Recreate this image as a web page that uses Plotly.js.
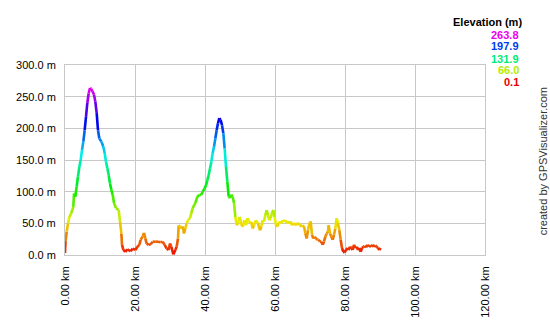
<!DOCTYPE html>
<html>
<head>
<meta charset="utf-8">
<script src="https://cdn.plot.ly/plotly-3.0.1.min.js"></script>
<style>html,body{margin:0;padding:0;background:#fff;}#chart{width:550px;height:320px;}</style>
</head>
<body>
<div id="chart"></div>
<script>
// Distance along track (km)
const distanceKm = [
  0, 0.15, 0.5, 0.86, 1.24, 1.81, 2.38, 2.57, 2.95, 3.33, 3.71, 4.1, 4.48, 4.86, 5.24, 5.62, 6.0, 6.38, 6.76, 7.14, 7.52, 7.9, 8.29, 8.67, 9.05, 9.43, 9.81, 10.4, 10.95, 11.33, 11.71, 12.1, 12.48, 12.86, 13.24, 13.62, 14.0, 14.57, 15.33, 15.71, 16.1, 16.29, 16.67, 17.24, 17.81,
  18.0, 18.76, 19.33, 20.1, 20.67, 21.24, 21.62, 22.19, 22.57, 22.95, 23.33, 23.9, 24.48, 25.05, 25.81, 26.57, 27.33, 27.9, 28.48, 29.05, 29.62, 30.0, 30.38, 30.95, 31.52, 31.9, 32.29, 32.48, 32.86, 33.24, 33.62, 34.0, 34.38, 34.76, 35.14, 35.71, 36.1, 36.48,
  37.24, 37.81, 38.38, 38.95, 39.33, 39.9, 40.29, 40.67, 41.05, 41.43, 41.81, 42.19, 42.57, 42.95, 43.33, 43.71, 44.1, 44.48, 44.86, 45.24, 45.62, 46.0, 46.38, 46.76, 47.14, 47.52, 47.9, 48.29, 48.67, 49.05, 49.43, 49.81, 50.19, 50.57, 50.95, 51.33, 51.71, 52.1, 52.48, 52.86, 53.24, 53.62, 54.0, 54.57, 55.14,
  55.71, 56.1, 56.48, 56.86, 57.24, 57.62, 58.0, 58.38, 58.76, 59.14, 59.52, 59.9, 60.29, 60.67, 61.05, 61.43, 61.81, 62.19, 62.57, 62.95, 63.33, 63.71, 64.1, 64.48, 64.86, 65.24, 65.62, 66.0, 66.38, 66.76, 67.14, 67.52, 67.9, 68.29, 68.67, 69.05, 69.43, 69.81, 70.19, 70.57, 70.95, 71.33, 71.71, 72.1, 72.48, 72.86, 73.24, 73.62, 74.0, 74.38, 74.76,
  75.14, 75.33, 75.71, 76.1, 76.48, 76.86, 77.24, 77.62, 78.0, 78.38, 78.76, 79.14, 79.52, 79.9, 80.29, 80.67, 81.05, 81.43, 81.81, 82.19, 82.57, 82.95, 83.33, 83.71, 84.1, 84.48, 84.86, 85.24, 85.62, 86.0, 86.38, 86.76, 87.14, 87.52, 87.9, 88.29, 88.67, 89.05, 89.43, 89.81, 90.19
];
// Elevation (m)
const elevationM = [
  3, 22, 37, 50, 60, 66, 76, 97, 92, 108, 124, 139, 150, 166, 179, 197, 218, 240, 255, 263.8, 262, 258, 253, 242, 224, 197, 184, 179, 171, 161, 147, 137, 126, 113, 103, 95, 82, 74, 71, 53, 34, 16, 8, 5, 9,
  8, 6, 10, 8, 13, 16, 24, 29, 35, 26, 18, 16, 17, 21, 21, 21, 20, 21, 16, 10, 8, 18, 13, 1, 8, 13, 26, 47, 45, 42, 45, 34, 42, 50, 55, 58, 66, 74,
  82, 92, 95, 95, 100, 105, 110, 118, 126, 137, 147, 161, 171, 184, 197, 208, 216, 213, 205, 192, 168, 139, 116, 92, 90, 95, 92, 82, 60, 47, 50, 60, 55, 45, 47, 55, 47, 58, 55, 50, 52, 42, 47, 55, 50,
  39, 45, 55, 53, 63, 71, 63, 55, 58, 66, 71, 60, 47, 45, 50, 53, 50, 55, 53, 55, 50, 53, 50, 53, 47, 50, 49, 47, 50, 50, 47, 45, 47, 45, 34, 26, 39, 50, 53, 32, 26, 29, 26, 24, 24, 21, 21, 16, 21, 29, 34,
  37, 47, 34, 29, 24, 32, 42, 58, 50, 39, 24, 11, 5, 4, 8, 11, 8, 13, 11, 8, 16, 11, 13, 8, 11, 5, 11, 13, 14, 12, 16, 13, 15, 13, 16, 13, 15, 13, 11, 8, 11
];
// Colour legend values (m)
const legendValues = [263.8, 197.9, 131.9, 66.0, 0.1];
const xTickVals = [0, 20, 40, 60, 80, 100, 120];
const yTickVals = [0, 50, 100, 150, 200, 250, 300];

const EMIN = 0.1, EMAX = 263.8;
function hsv(h, s, v) {
  const c = v * s, hp = h / 60, x = c * (1 - Math.abs(hp % 2 - 1));
  let r = 0, g = 0, b = 0;
  if (hp < 1) { r = c; g = x; } else if (hp < 2) { r = x; g = c; }
  else if (hp < 3) { g = c; b = x; } else if (hp < 4) { g = x; b = c; }
  else if (hp < 5) { r = x; b = c; } else { r = c; b = x; }
  const m = v - c;
  return 'rgb(' + Math.round((r + m) * 255) + ',' + Math.round((g + m) * 255) + ',' + Math.round((b + m) * 255) + ')';
}
function elevColor(e) {
  let t = (e - EMIN) / (EMAX - EMIN);
  t = Math.max(0, Math.min(1, t));
  return hsv(300 * t, 1, 0.93);
}

const traces = [];
for (let i = 0; i < distanceKm.length - 1; i++) {
  const e = (elevationM[i] + elevationM[i + 1]) / 2;
  traces.push({
    type: 'scatter', mode: 'lines',
    x: [distanceKm[i], distanceKm[i + 1]],
    y: [elevationM[i], elevationM[i + 1]],
    line: { color: elevColor(e), width: 2.6 },
    hoverinfo: 'skip', showlegend: false
  });
}

const FONT = 'Liberation Sans, Arial, sans-serif';
const annotations = [{
  xref: 'paper', yref: 'paper', x: 1.0929, y: 1.228, xanchor: 'right', yanchor: 'middle',
  text: '<b>Elevation (m)</b>', showarrow: false, font: { family: FONT, size: 11, color: '#000' }
}];
const legendY = [1.1595, 1.1, 1.033, 0.9737, 0.912];
legendValues.forEach((v, i) => {
  annotations.push({
    xref: 'paper', yref: 'paper', x: 1.0857, y: legendY[i], xanchor: 'right', yanchor: 'middle',
    text: '<b>' + v.toFixed(1) + '</b>', showarrow: false,
    font: { family: FONT, size: 11, color: elevColor(v) }
  });
});
annotations.push({
  xref: 'paper', yref: 'paper', x: 1.139, y: 0.495, xanchor: 'center', yanchor: 'middle',
  text: 'created by GPSVisualizer.com', textangle: -90, showarrow: false,
  font: { family: FONT, size: 11, color: '#333' }
});

const layout = {
  width: 550, height: 320,
  margin: { l: 65, r: 65, t: 65, b: 65, pad: 0 },
  paper_bgcolor: '#fff', plot_bgcolor: '#fff',
  font: { family: FONT, size: 11, color: '#000' },
  showlegend: false,
  xaxis: {
    range: [0, 120], tickvals: xTickVals,
    ticktext: xTickVals.map(v => v.toFixed(2) + ' km'),
    tickangle: -90, showgrid: true, gridcolor: '#c8c8c8', gridwidth: 1,
    showline: true, linecolor: '#c8c8c8', mirror: true, zeroline: false,
    ticks: 'outside', ticklen: 6, tickcolor: 'rgba(0,0,0,0)',
    tickfont: { family: FONT, size: 11, color: '#000' }, fixedrange: true
  },
  yaxis: {
    range: [0, 300], tickvals: yTickVals,
    ticktext: yTickVals.map(v => v.toFixed(1) + ' m'),
    showgrid: true, gridcolor: '#c8c8c8', gridwidth: 1,
    showline: true, linecolor: '#c8c8c8', mirror: true, zeroline: false,
    ticks: 'outside', ticklen: 6, tickcolor: 'rgba(0,0,0,0)',
    tickfont: { family: FONT, size: 11, color: '#000' }, fixedrange: true
  },
  annotations: annotations
};

Plotly.newPlot('chart', traces, layout, { staticPlot: true, displayModeBar: false });
</script>
</body>
</html>
